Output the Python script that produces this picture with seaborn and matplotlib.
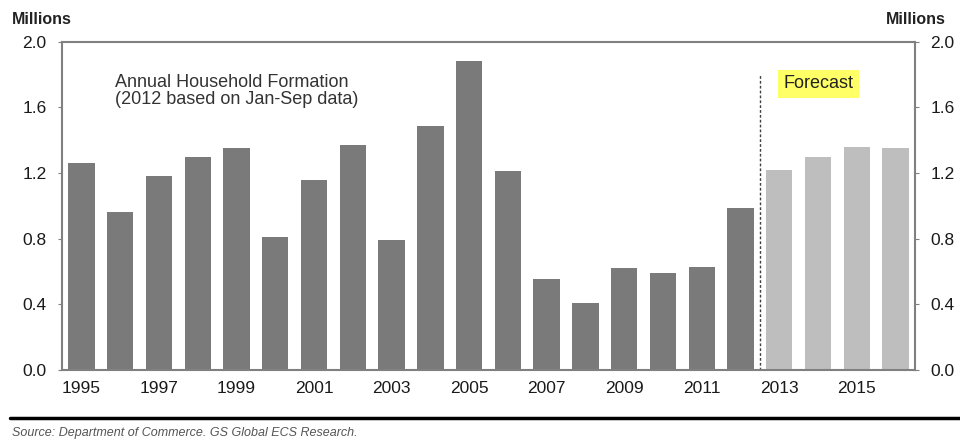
import matplotlib
matplotlib.use("Agg")
import matplotlib.pyplot as plt
from matplotlib.lines import Line2D
import seaborn as sns
import pandas as pd
import numpy as np

years = list(range(1995, 2017))
values = [1.26, 0.96, 1.18, 1.30, 1.35, 0.81, 1.16, 1.37, 0.79, 1.49, 1.88, 1.21,
          0.555, 0.41, 0.62, 0.59, 0.63, 0.99, 1.22, 1.30, 1.36, 1.35]
kind = ["Actual"] * 18 + ["Forecast"] * 4
yticks = [0.0, 0.4, 0.8, 1.2, 1.6, 2.0]

df = pd.DataFrame({"year": [str(y) for y in years], "value": values, "kind": kind})

sns.set_style("white")
plt.rcParams['font.family'] = ['Liberation Sans', 'DejaVu Sans']

fig = plt.figure(figsize=(9.6, 4.4), dpi=100)
ax = fig.add_axes([0.0646, 0.159, 0.8885, 0.746])
sns.barplot(data=df, x="year", y="value", hue="kind", dodge=False,
            palette={"Actual": "#7a7a7a", "Forecast": "#bebebe"},
            width=0.68, legend=False, ax=ax, saturation=1, linewidth=0)

ax.set_ylim(0, 2.0)
ax.set_xlim(-0.5, len(years) - 0.5)
ax.set_yticks(yticks)
ax.set_yticklabels([f"{t:.1f}" for t in yticks], fontsize=12.5)
ax.tick_params(axis="y", length=3, color="#808080", pad=8, labelcolor="#1a1a1a")
ax.set_xlabel("")
ax.set_ylabel("")

idx = list(range(0, len(years), 2))
ax.set_xticks(idx)
ax.set_xticklabels([str(years[i]) for i in idx], fontsize=12.5)
ax.tick_params(axis="x", length=0, pad=8, labelcolor="#1a1a1a")
ax.set_xticks(np.arange(-0.5, len(years), 1), minor=True)
ax.tick_params(axis="x", which="minor", length=4, color="#808080")

for s in ax.spines.values():
    s.set_color("#808080")
    s.set_linewidth(1.5)

ax2 = ax.twinx()
ax2.set_ylim(0, 2.0)
ax2.set_yticks(yticks)
ax2.set_yticklabels([f"{t:.1f}" for t in yticks], fontsize=12.5)
ax2.tick_params(axis="y", length=3, color="#808080", pad=8, labelcolor="#1a1a1a")
for s in ax2.spines.values():
    s.set_visible(False)

# forecast divider
ax.plot([17.5, 17.5], [0, 1.8], linestyle=(0, (2, 1.5)), color="#404040", linewidth=1)
ax.text(18.1, 1.745, "Forecast", fontsize=13, va="center", ha="left", color="#222222",
        bbox=dict(boxstyle="square,pad=0.3", facecolor="#ffff66", edgecolor="none"))

ax.text(0.87, 1.70, "Annual Household Formation\n(2012 based on Jan-Sep data)",
        fontsize=13, va="center", ha="left", color="#333333", linespacing=1.0)

fig.text(0.012, 0.955, "Millions", fontsize=11.5, fontweight="bold", color="#222222", va="center")
fig.text(0.985, 0.955, "Millions", fontsize=11.5, fontweight="bold", color="#222222", va="center", ha="right")

fig.add_artist(Line2D([0.01, 1.0], [0.05, 0.05], color="black", linewidth=2.5))
fig.text(0.012, 0.015, "Source: Department of Commerce. GS Global ECS Research.",
         fontsize=9, style="italic", color="#555555", va="center")

fig.savefig("out.png", dpi=100)
